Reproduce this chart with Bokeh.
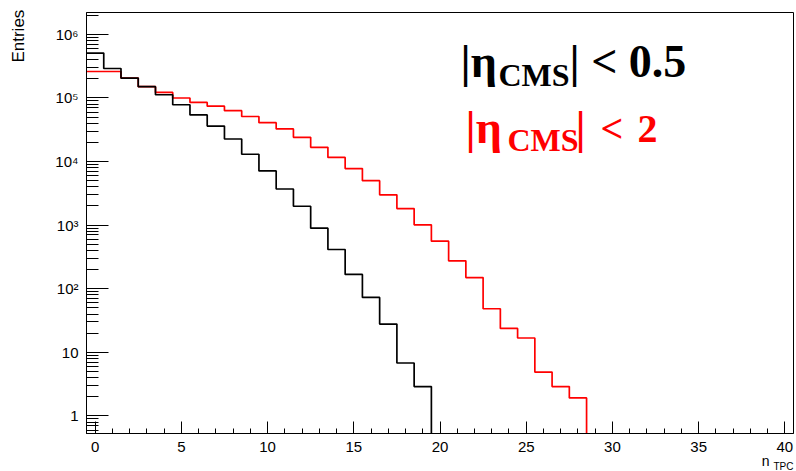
import math
from bokeh.plotting import figure
from bokeh.models import (Range1d, FixedTicker, CustomJSTickFormatter, Label, Title)
from bokeh.embed import file_html
from bokeh.resources import INLINE

# ---------------- data ----------------
bin_centers = list(range(0, 41))          # n_TPC bins, width 1
entries_eta05 = [5.07e5, 2.9e5, 2.05e5, 1.5e5, 1.12e5, 7.8e4, 5.4e4, 3.6e4,
                 2.26e4, 1.3e4, 7.1e3, 3.7e3, 1.98e3, 894, 414, 168, 73,
                 27.8, 6.8, 2.9] + [0] * 21
entries_eta2 = [2.6e5, 2.6e5, 2.05e5, 1.5e5, 1.22e5, 9.96e4, 8.5e4, 7.4e4,
                6.3e4, 5.1e4, 4.08e4, 3.25e4, 2.4e4, 1.67e4, 1.16e4, 7.74e3,
                5.0e3, 2.99e3, 1.82e3, 1.01e3, 559, 275, 150, 48.5, 23.8,
                16.8, 4.9, 2.9, 1.92] + [0] * 12
x_ticks = [0, 5, 10, 15, 20, 25, 30, 35, 40]
y_ticks = [1, 10, 100, 1000, 10000, 100000, 1000000]
y_tick_labels = ["1", "10", "10\u00b2", "10\u00b3", "10\u2074", "10\u2075", "10\u2076"]

Y_MIN, Y_MAX = 0.53, 2.2e6
X_MIN, X_MAX = -0.5, 40.5

p = figure(width=796, height=471, output_backend="svg", toolbar_location=None,
           x_range=Range1d(X_MIN, X_MAX), y_range=Range1d(Y_MIN, Y_MAX),
           y_axis_type="log",
           min_border_left=86, min_border_right=3, min_border_top=12,
           min_border_bottom=38)
p.background_fill_color = "white"
p.border_fill_color = "white"
p.outline_line_color = "black"
p.outline_line_width = 1
p.outline_line_alpha = 1.0
p.xgrid.visible = False
p.ygrid.visible = False


def hist_line(values):
    floor = Y_MIN / 10.0
    edges = [c - 0.5 for c in bin_centers] + [bin_centers[-1] + 0.5]
    ys = [v if v > 0 else floor for v in values]
    ys = ys + [ys[-1]]
    return edges, ys


xr, yr = hist_line(entries_eta2)
p.step(xr, yr, mode="after", line_color="#ff0000", line_width=1.7)
xb, yb = hist_line(entries_eta05)
p.step(xb, yb, mode="after", line_color="#000000", line_width=1.7)

# ---------------- axes ----------------
p.xaxis.ticker = FixedTicker(ticks=x_ticks,
                             minor_ticks=[float(v) for v in range(0, 41)])
minor_y = [m * 10.0 ** k for k in range(-1, 7) for m in range(2, 10)
           if Y_MIN <= m * 10.0 ** k <= Y_MAX]
p.yaxis.ticker = FixedTicker(ticks=y_ticks, minor_ticks=minor_y)
p.yaxis.formatter = CustomJSTickFormatter(
    args=dict(yt=y_ticks, yl=y_tick_labels),
    code="""
    for (let i = 0; i < yt.length; i++) {
        if (Math.abs(Math.log10(tick) - Math.log10(yt[i])) < 1e-6) return yl[i];
    }
    return "";
    """)

for ax in (p.xaxis[0], p.yaxis[0]):
    ax.axis_line_color = "black"
    ax.major_tick_line_color = "black"
    ax.minor_tick_line_color = "black"
    ax.major_tick_out = 0
    ax.minor_tick_out = 0
    ax.major_label_text_font = "Liberation Sans"
    ax.major_label_text_font_size = "15px"
    ax.major_label_text_color = "black"
    ax.major_label_standoff = 8

p.xaxis.major_tick_in = 12
p.xaxis.minor_tick_in = 5
p.yaxis.major_tick_in = 22
p.yaxis.minor_tick_in = 12

# ---------------- axis titles, at the far ends as in ROOT ----------------
sans_t = dict(text_font="Liberation Sans", text_font_style="normal", text_color="black")
yax = p.yaxis[0]
done = False
if "axis_label_align" in yax.properties():
    for a in ("right", "end"):
        try:
            yax.axis_label_align = a
            done = True
            break
        except Exception:
            pass
if done:
    # label is centred on the top end: pad its upper side so the word hangs down
    yax.axis_label = "Entries" + "\u00a0" * 10
    yax.axis_label_standoff = 24
    yax.axis_label_text_font = "Liberation Sans"
    yax.axis_label_text_font_style = "normal"
    yax.axis_label_text_font_size = "17px"
    yax.axis_label_text_color = "black"
else:
    p.add_layout(Title(text="Entries", align="right", vertical_align="top",
                       text_font_size="17px", standoff=30, **sans_t), "left")

t_n = Title(text="n", align="right", offset=24, text_font_size="14px", **sans_t)
t_tpc = Title(text="TPC", align="right", offset=0, text_font_size="10px", **sans_t)
for t, s in ((t_n, -7), (t_tpc, -13)):
    try:
        t.standoff = s
    except Exception:
        t.standoff = 0
p.add_layout(t_n, "below")
p.add_layout(t_tpc, "below")

# ---------------- texts in the frame ----------------
FL, FB = 86, 433   # frame left / bottom in canvas pixels
SHIFT = 0.37       # baseline correction (fraction of font size)


def lab(cx, cy, text, size, **kw):
    return Label(x=cx - FL, y=FB - cy + SHIFT * size, x_units="screen",
                 y_units="screen", text=text, text_font_size=f"{size}px",
                 text_baseline="alphabetic", **kw)


serif = dict(text_font="Liberation Serif", text_font_style="bold")
p.add_layout(lab(460, 78, "|\u03b7", 46, text_color="black", **serif))
p.add_layout(lab(498, 86, "CMS", 32, text_color="black", **serif))
p.add_layout(lab(569, 78, "| < 0.5", 46, text_color="black", **serif))

p.add_layout(lab(465, 144, "|\u03b7", 46, text_color="#ff0000", **serif))
p.add_layout(lab(507, 151, "CMS", 32, text_color="#ff0000", **serif))
p.add_layout(lab(575, 144, "|", 46, text_color="#ff0000", **serif))
p.add_layout(lab(600, 143, "<", 40, text_color="#ff0000", **serif))
p.add_layout(lab(637, 143, "2", 40, text_color="#ff0000", **serif))

open("out.html", "w").write(file_html(p, INLINE))
